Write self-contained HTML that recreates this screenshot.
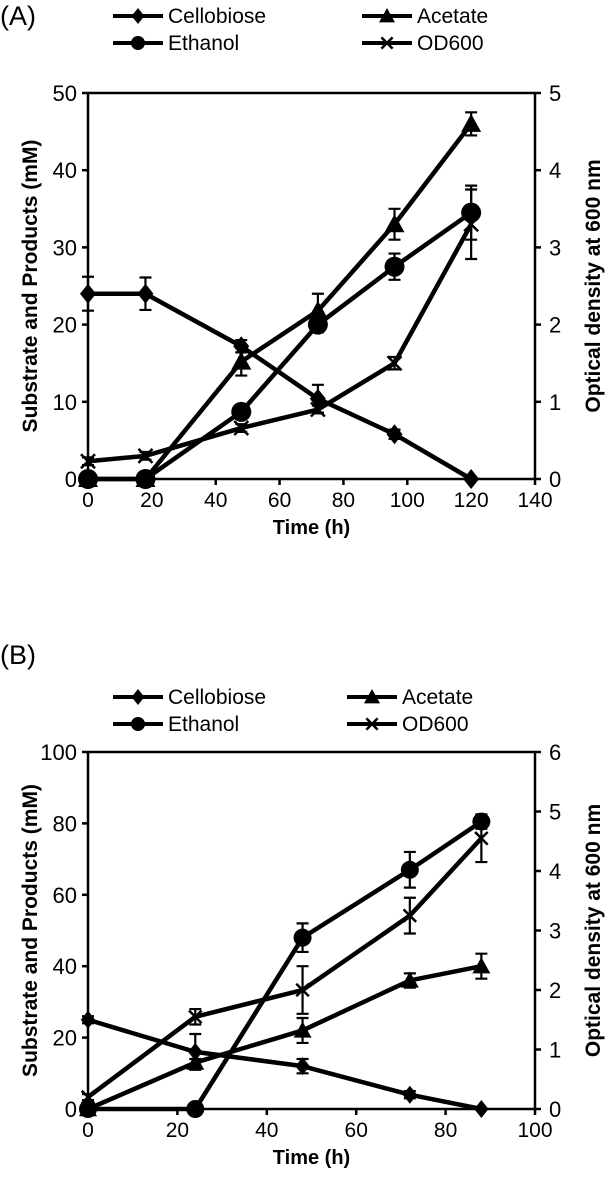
<!DOCTYPE html>
<html><head><meta charset="utf-8"><style>
html,body{margin:0;padding:0;background:#fff}
svg{display:block;font-family:"Liberation Sans",Arial,sans-serif}
</style></head><body>
<svg id="chart" width="611" height="1190" viewBox="0 0 611 1190" xmlns="http://www.w3.org/2000/svg"></svg>
<script>
// Panel A data
const timeA = [0, 18, 48, 72, 96, 120];
const cellobioseA = [24, 24, 17.2, 10.4, 5.8, 0];
const cellobioseErrA = [2.2, 2.1, 0.8, 1.8, 0.6, 0];
const ethanolA = [0, 0, 8.7, 20, 27.5, 34.5];
const ethanolErrA = [0, 0, 0.5, 1, 1.7, 3.5];
const acetateA = [0, 0, 15.2, 21.8, 33, 46];
const acetateErrA = [0, 0, 1.8, 2.2, 2, 1.5];
const odA = [0.23, 0.3, 0.66, 0.9, 1.5, 3.3];
const odErrA = [0.05, 0.05, 0.05, 0.05, 0.08, 0.45];
const xTicksA = [0, 20, 40, 60, 80, 100, 120, 140];
const yTicksA = [0, 10, 20, 30, 40, 50];
const y2TicksA = [0, 1, 2, 3, 4, 5];
// Panel B data
const timeB = [0, 24, 48, 72, 88];
const cellobioseB = [25, 16, 12, 4, 0];
const cellobioseErrB = [1, 5, 2, 1, 0];
const ethanolB = [0, 0, 48, 67, 80.5];
const ethanolErrB = [0, 0, 4, 5, 2];
const acetateB = [0, 13, 22, 36, 40];
const acetateErrB = [0, 1, 3.5, 2, 3.5];
const odB = [0.2, 1.55, 2, 3.25, 4.55];
const odErrB = [0.05, 0.13, 0.4, 0.3, 0.4];
const xTicksB = [0, 20, 40, 60, 80, 100];
const yTicksB = [0, 20, 40, 60, 80, 100];
const y2TicksB = [0, 1, 2, 3, 4, 5, 6];

const NS = "http://www.w3.org/2000/svg";
const svg = document.getElementById('chart');
function mk(tag, attrs, parent, text){
  const e = document.createElementNS(NS, tag);
  for (const k in attrs) e.setAttribute(k, attrs[k]);
  if (text !== undefined) e.textContent = text;
  (parent || svg).appendChild(e);
  return e;
}
function marker(g, type, x, y, s){
  let m;
  if (type === 'diamond') m = mk('polygon', {points:`${x},${y-s} ${x+s*0.8},${y} ${x},${y+s} ${x-s*0.8},${y}`, fill:'#000'}, g);
  else if (type === 'circle') m = mk('circle', {cx:x, cy:y, r:s, fill:'#000'}, g);
  else if (type === 'triangle') m = mk('polygon', {points:`${x},${y-s} ${x+s},${y+s*0.8} ${x-s},${y+s*0.8}`, fill:'#000'}, g);
  else { m = mk('path', {d:`M${x-s*0.7},${y-s*0.7}L${x+s*0.7},${y+s*0.7}M${x+s*0.7},${y-s*0.7}L${x-s*0.7},${y+s*0.7}`, stroke:'#000', 'stroke-width':2.5, fill:'none'}, g); }
  return m;
}
function panel(cfg){
  const {id, label, labelY, legY, left, right, top, bottom, xMax, yMax, y2Max, xTicks, yTicks, y2Ticks, t, series, ms} = cfg;
  const g = mk('g', {});
  
  
  const X = v => left + v / xMax * (right - left);
  const Y = v => bottom - v / yMax * (bottom - top);
  const Y2 = v => bottom - v / y2Max * (bottom - top);
  const pl = mk('text', {x:0, y:labelY, 'font-size':27}, g, label);
  
  
  const lg = mk('g', {}, g);
  
  
  const lx2 = id === 'b' ? 347 : 362;
  const legPos = [[113, legY], [113, legY + 27], [lx2, legY], [lx2, legY + 27]];
  [0, 1, 2, 3].forEach((si, i) => {
    const s = series[si];
    const [lx, ly] = legPos[i];
    const e = mk('g', {}, lg);
    
    
    mk('line', {x1:lx, y1:ly, x2:lx + 50, y2:ly, stroke:'#000', 'stroke-width':4}, e);
    marker(e, s.m, lx + 25, ly, s.m === 'circle' ? 7 : 8);
    mk('text', {x:lx + 55, y:ly + 7, 'font-size':21}, e, s.name);
  });
  const ax = mk('g', {stroke:'#000', 'stroke-width':2.5, fill:'none'}, g);
  
  
  mk('line', {x1:left, y1:top, x2:right, y2:top}, ax);
  mk('line', {x1:left, y1:bottom, x2:right, y2:bottom}, ax);
  mk('line', {x1:left, y1:top, x2:left, y2:bottom}, ax);
  mk('line', {x1:right, y1:top, x2:right, y2:bottom}, ax);
  xTicks.forEach(v => {
    mk('line', {x1:X(v), y1:bottom, x2:X(v), y2:bottom + 6}, ax);
    const tl = mk('text', {x:X(v), y:bottom + 28, 'font-size':21, 'text-anchor':'middle', fill:'#000', stroke:'none'}, g, v);
    
    
  });
  yTicks.forEach(v => {
    mk('line', {x1:left - 6, y1:Y(v), x2:left, y2:Y(v)}, ax);
    const tl = mk('text', {x:left - 11, y:Y(v) + 8, 'font-size':22, 'text-anchor':'end', fill:'#000', stroke:'none'}, g, v);
    
    
  });
  y2Ticks.forEach(v => {
    mk('line', {x1:right, y1:Y2(v), x2:right + 6, y2:Y2(v)}, ax);
    const tl = mk('text', {x:right + 14, y:Y2(v) + 8, 'font-size':22, fill:'#000', stroke:'none'}, g, v);
    
    
  });
  const xt = mk('text', {x:(left + right) / 2, y:bottom + 55, 'font-size':20, 'font-weight':'bold', 'text-anchor':'middle'}, g, 'Time (h)');
  
  
  const cy = (top + bottom) / 2;
  const yt = mk('text', {x:0, y:0, 'font-size':21, 'font-weight':'bold', 'text-anchor':'middle', transform:`translate(37,${cy}) rotate(-90)`}, g, 'Substrate and Products (mM)');
  
  
  const y2t = mk('text', {x:0, y:0, 'font-size':21, 'font-weight':'bold', 'text-anchor':'middle', transform:`translate(600,${cy}) rotate(-90)`}, g, 'Optical density at 600 nm');
  
  
  series.forEach(s => {
    const sg = mk('g', {}, g);
    
    
    const yf = s.right ? Y2 : Y;
    const pts = t.map((tv, i) => X(tv) + ',' + yf(s.v[i])).join(' ');
    mk('polyline', {points:pts, fill:'none', stroke:'#000', 'stroke-width':4.5, 'stroke-linejoin':'round'}, sg);
    t.forEach((tv, i) => {
      const x = X(tv);
      if (s.e[i] > 0) {
        const y1 = yf(s.v[i] + s.e[i]), y2 = yf(s.v[i] - s.e[i]);
        mk('path', {d:`M${x},${y1}L${x},${y2}M${x-6},${y1}L${x+6},${y1}M${x-6},${y2}L${x+6},${y2}`, stroke:'#000', 'stroke-width':2.2, fill:'none'}, sg);
      }
      const m = marker(sg, s.m, x, yf(s.v[i]), ms);
      
      
    });
  });
}
panel({id:'a', label:'(A)', labelY:25, legY:16, left:88, right:535, top:93, bottom:479,
  xMax:140, yMax:50, y2Max:5, xTicks:xTicksA, yTicks:yTicksA, y2Ticks:y2TicksA, t:timeA, ms:10,
  series:[
    {name:'Cellobiose', m:'diamond', v:cellobioseA, e:cellobioseErrA},
    {name:'Ethanol', m:'circle', v:ethanolA, e:ethanolErrA},
    {name:'Acetate', m:'triangle', v:acetateA, e:acetateErrA},
    {name:'OD600', m:'x', v:odA, e:odErrA, right:true}
  ]});
panel({id:'b', label:'(B)', labelY:664, legY:697, left:88, right:535, top:752, bottom:1109,
  xMax:100, yMax:100, y2Max:6, xTicks:xTicksB, yTicks:yTicksB, y2Ticks:y2TicksB, t:timeB, ms:9,
  series:[
    {name:'Cellobiose', m:'diamond', v:cellobioseB, e:cellobioseErrB},
    {name:'Ethanol', m:'circle', v:ethanolB, e:ethanolErrB},
    {name:'Acetate', m:'triangle', v:acetateB, e:acetateErrB},
    {name:'OD600', m:'x', v:odB, e:odErrB, right:true}
  ]});
</script>
</body></html>
